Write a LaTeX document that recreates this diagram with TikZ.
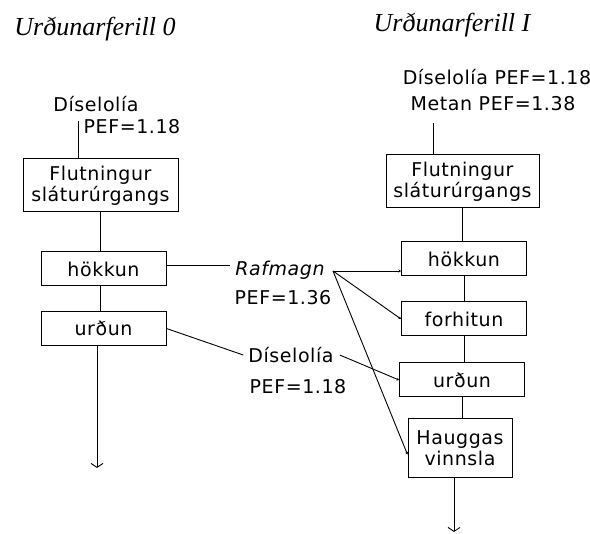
\documentclass[tikz,border=0pt]{standalone}
\usepackage{fontspec}
\setmainfont{DejaVu Sans}[LetterSpace=3]
\newfontfamily\titlefont{Liberation Serif}
\usetikzlibrary{arrows.meta}

\begin{document}
\begin{tikzpicture}[x=1pt,y=-1pt,
  every node/.style={font=\fontsize{19}{21}\selectfont, inner sep=0pt},
  procbox/.style={draw, line width=1pt, align=center},
  widebox/.style={procbox, minimum width=155pt, minimum height=53pt},
  stepbox/.style={procbox, minimum width=125pt, minimum height=34pt},
  heading/.style={font=\titlefont\itshape\fontsize{26}{28}\selectfont},
  link/.style={line width=0.9pt},
  feed/.style={link, -{Stealth[length=2.5pt,width=3pt]}},
  outflow/.style={link, -{Straight Barb[length=4pt,width=12pt]}}]

\useasboundingbox (0,0) rectangle (590,534);

% --- headings
\node[heading] (t0) at (95,29) {Urðunarferill 0};
\node[heading] (t1) at (452,25) {Urðunarferill I};

% --- process 0
\node (d0) at (96,104) {Díselolía};
\node (p0) at (132,127) {PEF=1.18};
\coordinate (in0) at (78,121);
\node[widebox] (fl0) at (100.5,185.5) {Flutningur\\sláturúrgangs};
\node[stepbox] (hok0) at (103.5,269) {hökkun};
\node[stepbox] (urd0) at (103.5,328.5) {urðun};
\coordinate (end0) at (97,468);

% --- shared inputs
\node[font=\fontsize{19}{21}\selectfont\itshape] (raf) at (280,270) {Rafmagn};
\node (p1) at (283,298) {PEF=1.36};
\node (d1) at (291,355) {Díselolía};
\node (p2) at (298,387) {PEF=1.18};
\coordinate (rout) at (333,271);

% --- process I
\node (dm) at (497,77) {Díselolía PEF=1.18};
\node (mt) at (493,104) {Metan PEF=1.38};
\coordinate (in1) at (433,123);
\node[widebox, minimum width=153pt] (fl1) at (462.5,181.5) {Flutningur\\sláturúrgangs};
\node[stepbox] (hok1) at (464,259) {hökkun};
\node[stepbox] (for1) at (464,319) {forhitun};
\node[stepbox] (urd1) at (462,380) {urðun};
\node[procbox, minimum width=104pt, minimum height=59pt] (hau1) at (460,448.5) {Hauggas\\vinnsla};
\coordinate (end1) at (454,532);

% --- flow of process 0
\draw[link] (in0) -- (in0 |- fl0.north);
\draw[link] (fl0.south) -- (fl0.south |- hok0.north);
\draw[link] (hok0.south -| fl0.south) -- (fl0.south |- urd0.north);
\draw[outflow] (urd0.south -| end0) -- (end0);

% --- flow of process I
\draw[link] (in1) -- (in1 |- fl1.north);
\draw[link] (fl1.south) -- (fl1.south |- hok1.north);
\draw[link] (hok1.south) -- (for1.north);
\draw[link] (for1.south) -- (for1.south |- urd1.north);
\draw[link] (urd1.south) -- (urd1.south |- hau1.north);
\draw[outflow] (hau1.south -| end1) -- (end1);

% --- energy inputs
\draw[link] (hok0.east |- 0,265) -- (230,265);
\draw[feed] (rout) -- (rout -| hok1.west);
\draw[feed] (rout) -- (for1.west);
\draw[feed] (rout) -- ([yshift=-6pt]hau1.west);
\draw[link] (urd0.east) -- ([xshift=-5pt]d1.west);
\draw[feed] ([xshift=6pt]d1.east) -- (urd1.west);
\end{tikzpicture}
\end{document}
